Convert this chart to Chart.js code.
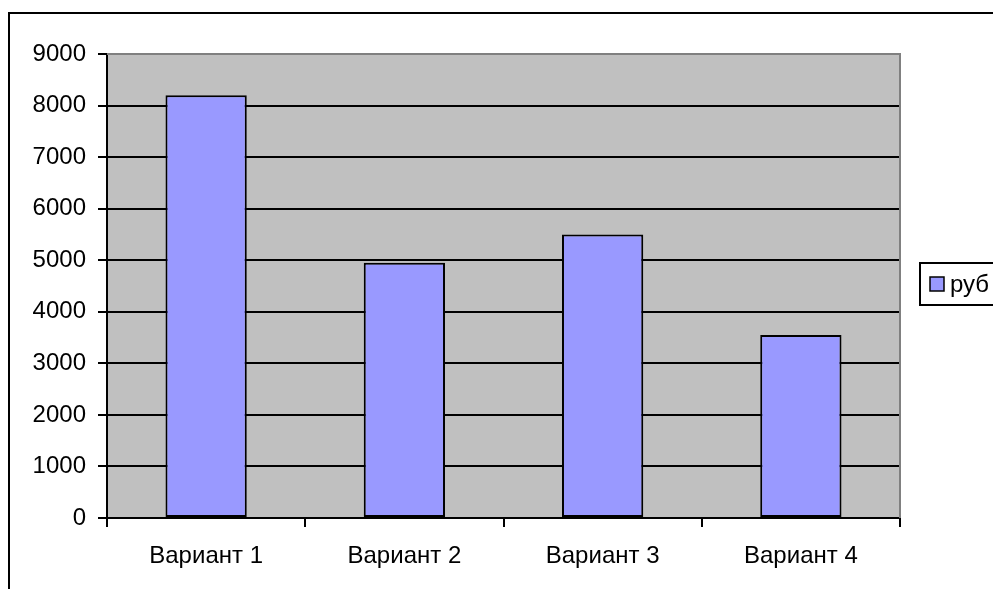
<!DOCTYPE html>
<html>
<head>
<meta charset="utf-8">
<script src="https://cdn.jsdelivr.net/npm/chart.js@4/dist/chart.umd.min.js"></script>
<style>
  html, body { margin: 0; padding: 0; background: #ffffff; overflow: hidden; }
  #wrap { width: 993px; height: 589px; }
</style>
</head>
<body>
<div id="wrap"><canvas id="c" width="993" height="589"></canvas></div>
<script>
// Chart data
const categories = ['Вариант 1', 'Вариант 2', 'Вариант 3', 'Вариант 4'];
const seriesName = 'руб';
const values = [8200, 4950, 5500, 3550];
const yTicks = [0, 1000, 2000, 3000, 4000, 5000, 6000, 7000, 8000, 9000];

const FONT = '"Liberation Sans", Arial, sans-serif';
const FONT_SIZE = 24;
const BAR_FILL = '#9999FF';
const PLOT_BG = '#C0C0C0';

// Outer frame, plot background and legend box
const decor = {
  id: 'decor',
  beforeDraw(chart) {
    const { ctx, chartArea: a } = chart;
    ctx.save();
    ctx.fillStyle = PLOT_BG;
    ctx.fillRect(a.left, a.top, a.right - a.left, a.bottom - a.top);
    ctx.strokeStyle = '#000000';
    ctx.lineWidth = 2;
    ctx.strokeRect(9, 13, 2000, 2000);
    ctx.restore();
  },
  beforeDatasetsDraw(chart) {
    const { ctx, chartArea: a } = chart;
    ctx.save();
    ctx.strokeStyle = '#808080';
    ctx.lineWidth = 2;
    ctx.beginPath();
    ctx.moveTo(a.left, a.top);
    ctx.lineTo(a.right, a.top);
    ctx.lineTo(a.right, a.bottom);
    ctx.stroke();
    ctx.restore();
  },
  afterDraw(chart) {
    const { ctx, chartArea: a } = chart;
    const ds = chart.data.datasets[0];
    const x = a.right + 20;
    const cy = (a.top + a.bottom) / 2 - 2;
    ctx.save();
    ctx.strokeStyle = '#000000';
    ctx.lineWidth = 2;
    ctx.strokeRect(x, cy - 21, 200, 42);
    ctx.fillStyle = ds.backgroundColor;
    ctx.fillRect(x + 10, cy - 7, 14, 14);
    ctx.lineWidth = 1.5;
    ctx.strokeRect(x + 10, cy - 7, 14, 14);
    ctx.fillStyle = '#000000';
    ctx.font = FONT_SIZE + 'px ' + FONT;
    ctx.textBaseline = 'middle';
    ctx.textAlign = 'left';
    ctx.fillText(ds.label, x + 30, cy + 1);
    ctx.restore();
  }
};

new Chart(document.getElementById('c'), {
  type: 'bar',
  data: {
    labels: categories,
    datasets: [{
      label: seriesName,
      data: values,
      backgroundColor: BAR_FILL,
      borderColor: '#000000',
      borderWidth: 2,
      borderSkipped: false,
      categoryPercentage: 1,
      barPercentage: 0.41
    }]
  },
  options: {
    responsive: false,
    animation: false,
    devicePixelRatio: 1,
    layout: { padding: { left: 0, top: 54, right: 93, bottom: 0 } },
    plugins: {
      legend: { display: false },
      tooltip: { enabled: false }
    },
    scales: {
      y: {
        min: 0,
        max: 9000,
        afterBuildTicks(scale) { scale.ticks = yTicks.map(v => ({ value: v })); },
        afterFit(scale) { scale.width = 107; },
        ticks: {
          color: '#000000',
          padding: 12,
          callback: v => String(v),
          font: { family: FONT, size: FONT_SIZE }
        },
        grid: {
          color: ctx => (ctx.tick && ctx.tick.value === 9000 ? '#808080' : '#000000'),
          tickColor: '#000000',
          lineWidth: 2,
          tickLength: 9
        },
        border: { color: '#000000', width: 2 }
      },
      x: {
        afterFit(scale) { scale.height = 71; },
        ticks: {
          color: '#000000',
          padding: 15,
          font: { family: FONT, size: FONT_SIZE }
        },
        grid: {
          offset: true,
          drawOnChartArea: false,
          tickColor: '#000000',
          lineWidth: 2,
          tickLength: 9
        },
        border: { color: '#000000', width: 2 }
      }
    }
  },
  plugins: [decor]
});
</script>
</body>
</html>
